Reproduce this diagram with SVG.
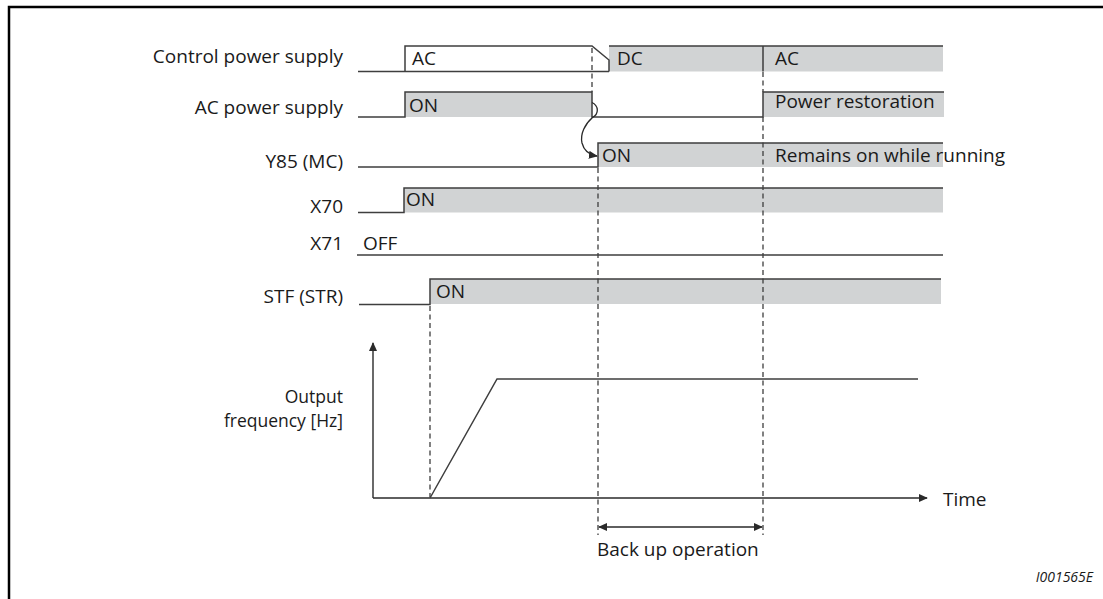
<svg xmlns="http://www.w3.org/2000/svg" width="1103" height="599" viewBox="0 0 1103 599">
<style>
text{font-family:"Open Sans","Liberation Sans",sans-serif;font-size:19px;fill:#1a1a1a}
.lbl{text-anchor:end}
.sig{fill:none;stroke:#3e3e3e;stroke-width:1.5}
.fill{fill:#d1d3d4}
.dash{fill:none;stroke:#3e3e3e;stroke-width:1.3;stroke-dasharray:5 3.5}
.ax{fill:none;stroke:#2a2a2a;stroke-width:1.4}
</style>
<defs>
<marker id="ah" viewBox="0 0 10 10" refX="9" refY="5" markerWidth="9" markerHeight="9" markerUnits="userSpaceOnUse" orient="auto-start-reverse"><path d="M0,0.5 L10,5 L0,9.5 Z" fill="#2a2a2a"/></marker>
</defs>
<rect width="1103" height="599" fill="#fff"/>
<path d="M9,599 V7 H1103" fill="none" stroke="#000" stroke-width="2.5"/>

<g id="control-power">
<rect class="fill" x="609" y="46" width="334" height="25.5"/>
<path class="sig" d="M358,71.5 H609 M405,71.5 V46 H592 L609,60 V71.5 M609,46 H943 M763,46 V71.5"/>
<text class="lbl" x="343" y="63">Control power supply</text>
<text x="412" y="65">AC</text>
<text x="617" y="65">DC</text>
<text x="775" y="65">AC</text>
</g>

<g id="ac-power">
<rect class="fill" x="405" y="92" width="187" height="25"/>
<rect class="fill" x="763" y="92" width="181" height="25"/>
<path class="sig" d="M358,117 H405 V92 H592 V117 H763 V92 H944"/>
<text class="lbl" x="343" y="114">AC power supply</text>
<text x="409" y="112">ON</text>
<text x="775" y="108">Power restoration</text>
</g>

<g id="y85">
<rect class="fill" x="598" y="143" width="345" height="24"/>
<path class="sig" d="M358,167 H598 V143 H943"/>
<text class="lbl" x="343" y="168">Y85 (MC)</text>
<text x="602" y="162">ON</text>
<text x="775" y="162">Remains on while running</text>
</g>

<g id="x70">
<rect class="fill" x="404" y="188" width="539" height="24.5"/>
<path class="sig" d="M358,212.5 H404 V188 H943"/>
<text class="lbl" x="343" y="213">X70</text>
<text x="406" y="206">ON</text>
</g>

<g id="x71">
<path class="sig" d="M357,255 H943"/>
<text class="lbl" x="343" y="250">X71</text>
<text x="363" y="250">OFF</text>
</g>

<g id="stf">
<rect class="fill" x="430" y="279" width="511" height="25"/>
<path class="sig" d="M359,304.5 H430 V279 H941"/>
<text class="lbl" x="343" y="303">STF (STR)</text>
<text x="436" y="298">ON</text>
</g>

<g id="output-frequency">
<path class="ax" d="M373,498 V343" marker-end="url(#ah)"/>
<path class="ax" d="M373,498 H927" marker-end="url(#ah)"/>
<path class="sig" d="M430,498 L497,379 H918"/>
<text class="lbl" x="343" y="403" style="font-size:17.5px">Output</text>
<text class="lbl" x="343" y="427" style="font-size:17.5px">frequency [Hz]</text>
<text x="943" y="506">Time</text>
</g>

<g id="connectors">
<path class="dash" d="M592,48 V92"/>
<path class="dash" d="M763,72 V92 M763,117 V535"/>
<path class="dash" d="M598,168 V535"/>
<path class="dash" d="M430,306 V497"/>
<path fill="none" stroke="#2a2a2a" stroke-width="1.3" d="M592,102.5 C599,106 599,114 592.5,117.5 C585,124 580,134 582,143 C584,151 590,155 597,156" marker-end="url(#ah)"/>
<path class="ax" d="M599,527 H762" marker-start="url(#ah)" marker-end="url(#ah)"/>
</g>

<g id="backup-label">
<text x="597" y="556">Back up operation</text>
</g>
<text x="1093" y="582" text-anchor="end" style="font-size:14px;font-style:italic">I001565E</text>
</svg>
